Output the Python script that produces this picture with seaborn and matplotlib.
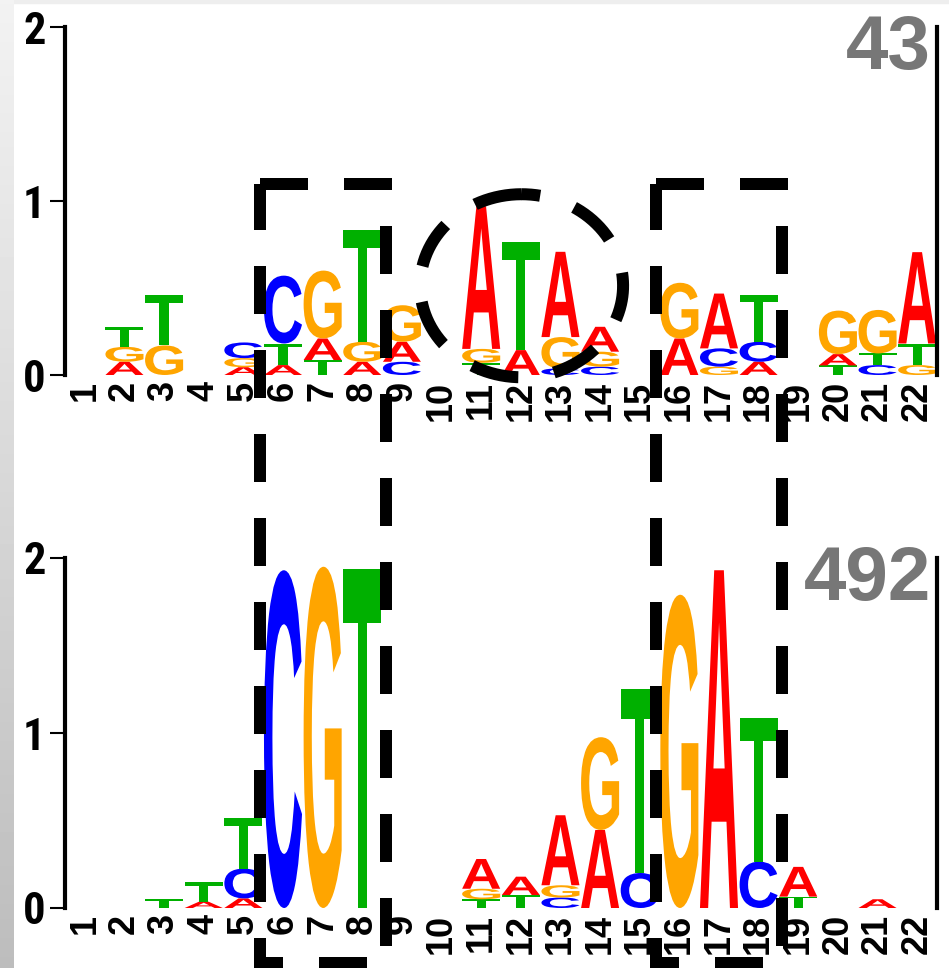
import numpy as np
import matplotlib
matplotlib.use("Agg")
import matplotlib.pyplot as plt
import matplotlib.transforms as mtransforms
import seaborn as sns
from matplotlib import font_manager
from matplotlib.font_manager import FontProperties
from matplotlib.textpath import TextPath
from matplotlib.patches import PathPatch, Rectangle
from matplotlib.lines import Line2D

# ---------------------------------------------------------------- data
positions = list(range(1, 23))
bases = ["A", "C", "G", "T"]

# motif with 43 sites: information (bits) carried by each base
top_A = [0, .076, 0, 0, .045, .057, .124, .076, .115, 0, .82, .143, .49, .143, 0, .21, .315, .076, 0, .065, 0, .525]
top_C = [0, 0, 0, 0, .09, .39, 0, 0, .076, 0, 0, 0, .038, .048, 0, 0, .105, .115, 0, 0, .057, 0]
top_G = [0, .086, .17, 0, .052, 0, .39, .115, .21, 0, .08, 0, .18, .086, 0, .32, .048, 0, 0, .25, .25, .057]
top_T = [0, .114, .29, 0, 0, .124, .086, .64, 0, 0, .07, .62, 0, 0, 0, 0, 0, .27, 0, .055, .067, .124]
top_sites = "43"

# motif with 492 sites
bot_A = [0, 0, 0, .036, .055, 0, 0, 0, 0, 0, .17, .105, .40, .446, 0, 0, 1.93, 0, .17, 0, .05, 0]
bot_C = [0, 0, 0, 0, .17, 1.93, 0, 0, 0, 0, 0, 0, .06, 0, .2, 0, 0, .265, 0, 0, 0, 0]
bot_G = [0, 0, 0, 0, 0, 0, 1.95, 0, 0, 0, .06, 0, .07, .53, 0, 1.79, 0, 0, 0, 0, 0, 0]
bot_T = [0, 0, .05, .11, .29, 0, 0, 1.94, 0, 0, .05, .074, 0, 0, 1.05, 0, 0, .82, .065, 0, 0, 0]
bot_sites = "492"

y_ticks = [0, 1, 2]

# highlighted column blocks and the ringed core
box_spans = [(5.42, 8.6), (15.4, 18.58)]
ring_center = (12.02, 0.513)
ring_radii = (2.56, 0.526)

# ---------------------------------------------------------------- style
sns.set_theme(style="white")
plt.rcParams["lines.scale_dashes"] = False

available = {f.name for f in font_manager.fontManager.ttflist}


def first_font(*names):
    for n in names:
        if n in available:
            return n
    return "DejaVu Sans"


bold_family = first_font("Liberation Sans", "Arimo", "DejaVu Sans")
narrow_family = first_font("Liberation Sans Narrow", "Roboto Condensed", bold_family)

colors = {"A": "#ff0000", "C": "#0000ff", "G": "#ffa500", "T": "#00b000"}
glyph_prop = FontProperties(family=bold_family, weight="bold")
glyphs = {b: TextPath((0, 0), b, size=1, prop=glyph_prop) for b in bases}

W, H = 949, 968
fig = plt.figure(figsize=(W / 100, H / 100), dpi=100, facecolor="white")

# soft grey page edge on the left and along the top
bg = fig.add_axes([0, 0, 14 / W, 1], zorder=-5)
bg.imshow(np.linspace(0.95, 0.74, 256)[:, None], cmap="gray", vmin=0, vmax=1,
          aspect="auto", extent=(0, 1, 0, 1))
bg.axis("off")
fig.add_artist(Rectangle((0, 1 - 3 / H), 1, 3 / H, transform=fig.transFigure,
                         color="#eeeeee", zorder=-5))


def px_axes(left, right, top, bottom):
    return fig.add_axes([left / W, 1 - bottom / H, (right - left) / W, (bottom - top) / H])


def draw_letter(ax, base, x, y0, h, width=0.96):
    path = glyphs[base]
    ext = path.get_extents()
    tr = (mtransforms.Affine2D()
          .translate(-ext.x0, -ext.y0)
          .scale(width / ext.width, h / ext.height)
          .translate(x - width / 2, y0))
    ax.add_patch(PathPatch(tr.transform_path(path), facecolor=colors[base],
                           edgecolor="none", lw=0))


def draw_logo(ax, A, C, G, T, sites):
    ax.set_xlim(0.5, 22.5)
    ax.set_ylim(0, 2)
    ax.set_facecolor("none")
    ax.grid(False)
    sns.despine(ax=ax, top=True, bottom=True, left=False, right=False)
    for side in ("left", "right"):
        ax.spines[side].set_linewidth(3)
        ax.spines[side].set_color("black")
    table = {"A": A, "C": C, "G": G, "T": T}
    for i, pos in enumerate(positions):
        stack = sorted(((table[b][i], b) for b in bases if table[b][i] > 0))
        y0 = 0.0
        for h, b in stack:
            draw_letter(ax, b, pos, y0, h)
            y0 += h
    ax.set_xticks(positions)
    ax.set_xticklabels([str(p) for p in positions], rotation=90, fontsize=26,
                       fontweight="bold", family=bold_family, color="black")
    ax.tick_params(axis="x", length=0, pad=4, bottom=False)
    ax.set_yticks(y_ticks)
    ax.set_yticklabels([str(v) for v in y_ticks], fontsize=32, fontweight="bold",
                       family=narrow_family, color="black")
    ax.tick_params(axis="y", left=True, right=False, length=11, width=1.5,
                   pad=3, color="black")
    ax.annotate(sites, xy=(1, 1), xycoords="axes fraction", xytext=(-6, 13),
                textcoords="offset pixels", ha="right", va="top", fontsize=55,
                fontweight="bold", color="#777777", family=bold_family)


ax_top = px_axes(65, 937, 27, 375)
ax_bot = px_axes(65, 937, 558, 908)
draw_logo(ax_top, top_A, top_C, top_G, top_T, top_sites)
draw_logo(ax_bot, bot_A, bot_C, bot_G, bot_T, bot_sites)

dash = (0, (34.56, 25.92))
line_w = 8.64

# dashed boxes running from the upper logo down through the lower one
box_top, box_bottom = 1.098, -0.314
for x0, x1 in box_spans:
    pts = np.array([
        ax_top.transData.transform((x0, box_top)),
        ax_top.transData.transform((x1, box_top)),
        ax_bot.transData.transform((x1, box_bottom)),
        ax_bot.transData.transform((x0, box_bottom)),
        ax_top.transData.transform((x0, box_top)),
    ])
    fig.add_artist(Line2D(pts[:, 0], pts[:, 1], transform=mtransforms.IdentityTransform(),
                          color="black", lw=line_w, linestyle=dash,
                          dash_capstyle="butt", dash_joinstyle="miter", zorder=5))

# dashed ring around the central ATA core of the upper logo
t = np.radians(np.linspace(90, 450, 600))
ring = Line2D(ring_center[0] + ring_radii[0] * np.cos(t),
              ring_center[1] + ring_radii[1] * np.sin(t),
              color="black", lw=line_w, linestyle=dash, dash_capstyle="butt",
              clip_on=False, zorder=5)
ax_top.add_line(ring)

fig.savefig("out.png", dpi=100, facecolor="white")
